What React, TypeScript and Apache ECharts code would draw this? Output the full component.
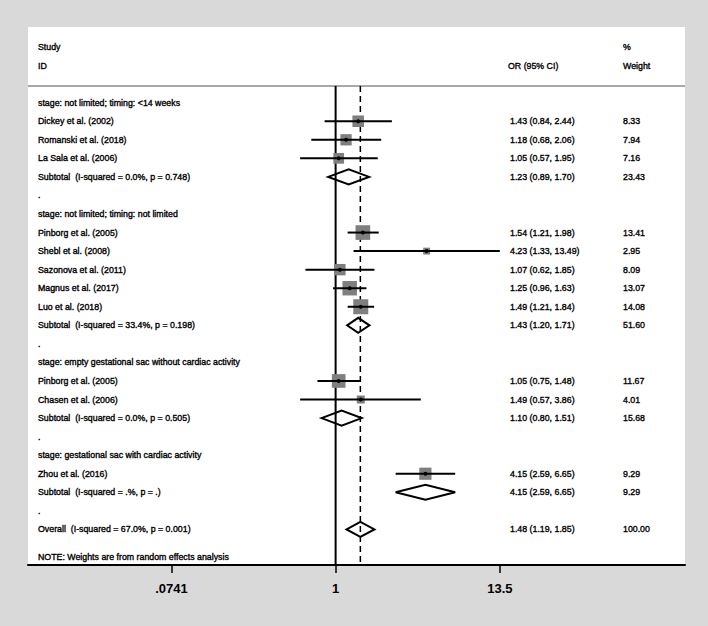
import React, { useEffect, useRef } from "react";
import * as echarts from "echarts";

// ---------- data ----------
const rowLabels = [
  "stage: not limited; timing: <14 weeks",
  "Dickey et al. (2002)",
  "Romanski et al. (2018)",
  "La Sala et al. (2006)",
  "Subtotal  (I-squared = 0.0%, p = 0.748)",
  ".",
  "stage: not limited; timing: not limited",
  "Pinborg et al. (2005)",
  "Shebl et al. (2008)",
  "Sazonova et al. (2011)",
  "Magnus et al. (2017)",
  "Luo et al. (2018)",
  "Subtotal  (I-squared = 33.4%, p = 0.198)",
  ".",
  "stage: empty gestational sac without cardiac activity",
  "Pinborg et al. (2005)",
  "Chasen et al. (2006)",
  "Subtotal  (I-squared = 0.0%, p = 0.505)",
  ".",
  "stage: gestational sac with cardiac activity",
  "Zhou et al. (2016)",
  "Subtotal  (I-squared = .%, p = .)",
  ".",
  "Overall  (I-squared = 67.0%, p = 0.001)",
];

const studyRows = [1, 2, 3, 7, 8, 9, 10, 11, 15, 16, 20];
const studyOR = [1.43, 1.18, 1.05, 1.54, 4.23, 1.07, 1.25, 1.49, 1.05, 1.49, 4.15];
const studyLo = [0.84, 0.68, 0.57, 1.21, 1.33, 0.62, 0.96, 1.21, 0.75, 0.57, 2.59];
const studyHi = [2.44, 2.06, 1.95, 1.98, 13.49, 1.85, 1.63, 1.84, 1.48, 3.86, 6.65];
const studyWeight = [8.33, 7.94, 7.16, 13.41, 2.95, 8.09, 13.07, 14.08, 11.67, 4.01, 9.29];

const pooledRows = [4, 12, 17, 21, 23];
const pooledOR = [1.23, 1.43, 1.1, 4.15, 1.48];
const pooledLo = [0.89, 1.2, 0.8, 2.59, 1.19];
const pooledHi = [1.7, 1.71, 1.51, 6.65, 1.85];
const pooledWeight = [23.43, 51.6, 15.68, 9.29, 100.0];

const tickValues = [0.0741, 1, 13.5];
const tickLabels = [".0741", "1", "13.5"];

const headerLeft = ["Study", "ID"];
const headerOR = "OR (95% CI)";
const headerWeight = ["%", "Weight"];
const noteText = "NOTE: Weights are from random effects analysis";

// ---------- layout ----------
const X_MIN = -4.875; // ln(OR) at left edge of plot region
const X_MAX = 5.537; // ln(OR) at right edge
const Y_MIN = -4.08;
const Y_MAX = 24.92;
const SEP_ROW = -0.9;
const NOTE_ROW = 24.47;
const HEADER_ROWS = [-3, -2];
const COL_LABEL = 10;
const COL_OR = 482;
const COL_W = 595;
const FONT = "'Liberation Sans', Arial, Helvetica, sans-serif";
const FS = 8.8;

const fmt = (v: number) => v.toFixed(2);

function txt(text: string, x: number, y: number) {
  return {
    type: "text",
    style: {
      text,
      x,
      y,
      fill: "#000",
      stroke: "#000",
      lineWidth: 0.35,
      fontSize: FS,
      fontFamily: FONT,
      align: "left",
      verticalAlign: "middle",
    },
  };
}

export default function App() {
  const ref = useRef<HTMLDivElement>(null);

  useEffect(() => {
    if (!ref.current) return;
    const chart = echarts.init(ref.current, undefined, { renderer: "svg" });
    const overallOR = pooledOR[pooledOR.length - 1];

    const option: any = {
      animation: false,
      backgroundColor: "#d9d9d9",
      grid: {
        left: 28,
        top: 27,
        width: 657,
        height: 538,
        show: true,
        backgroundColor: "#ffffff",
        borderWidth: 0,
      },
      xAxis: {
        type: "value",
        min: X_MIN,
        max: X_MAX,
        splitLine: { show: false },
        axisLine: { show: true, onZero: false, lineStyle: { color: "#000", width: 2 } },
        axisTick: {
          show: true,
          customValues: tickValues.map((v) => Math.log(v)),
          length: 8,
          lineStyle: { color: "#000", width: 1.5 },
        },
        axisLabel: {
          show: true,
          customValues: tickValues.map((v) => Math.log(v)),
          margin: 17,
          color: "#000",
          fontSize: 13,
          fontWeight: "bold",
          fontFamily: FONT,
          formatter: (val: number) => {
            const i = tickValues.findIndex((t) => Math.abs(Math.log(t) - val) < 1e-6);
            return i >= 0 ? tickLabels[i] : "";
          },
        },
      },
      yAxis: {
        type: "value",
        inverse: true,
        min: Y_MIN,
        max: Y_MAX,
        show: false,
        splitLine: { show: false },
      },
      series: [
        // reference lines & separator
        {
          type: "custom",
          clip: false,
          silent: true,
          data: [[0, 0]],
          renderItem: (_p: any, api: any) => {
            const top = api.coord([0, SEP_ROW])[1];
            const bottom = api.coord([0, Y_MAX])[1];
            const x1 = api.coord([0, 0])[0];
            const x2 = api.coord([Math.log(overallOR), 0])[0];
            const l = api.coord([X_MIN, SEP_ROW]);
            const r = api.coord([X_MAX, SEP_ROW]);
            return {
              type: "group",
              children: [
                {
                  type: "line",
                  shape: { x1: l[0], y1: l[1], x2: r[0], y2: r[1] },
                  style: { stroke: "#8c8c8c", lineWidth: 1.3 },
                },
                {
                  type: "line",
                  shape: { x1, y1: top, x2: x1, y2: bottom },
                  style: { stroke: "#000", lineWidth: 2 },
                },
                {
                  type: "line",
                  shape: { x1: x2, y1: top, x2, y2: bottom },
                  style: { stroke: "#000", lineWidth: 1.5, lineDash: [6, 4] },
                },
              ],
            };
          },
        },
        // header + note text
        {
          type: "custom",
          clip: false,
          silent: true,
          data: [[0, 0]],
          renderItem: (_p: any, api: any) => {
            const x0 = api.coord([X_MIN, 0])[0];
            const children: any[] = [];
            headerLeft.forEach((t, k) => {
              children.push(txt(t, x0 + COL_LABEL, api.coord([0, HEADER_ROWS[k]])[1]));
            });
            children.push(txt(headerOR, x0 + COL_OR - 2, api.coord([0, HEADER_ROWS[1]])[1]));
            headerWeight.forEach((t, k) => {
              children.push(txt(t, x0 + COL_W, api.coord([0, HEADER_ROWS[k]])[1]));
            });
            children.push(txt(noteText, x0 + COL_LABEL, api.coord([0, NOTE_ROW])[1]));
            return { type: "group", children };
          },
        },
        // row labels
        {
          type: "custom",
          clip: false,
          silent: true,
          data: rowLabels.map((_, i) => [0, i]),
          renderItem: (p: any, api: any) => {
            const i = p.dataIndex;
            const x0 = api.coord([X_MIN, i])[0];
            const y = api.coord([0, i])[1];
            return txt(rowLabels[i], x0 + COL_LABEL, y);
          },
        },
        // studies
        {
          type: "custom",
          clip: false,
          silent: true,
          data: studyRows.map((r, k) => [Math.log(studyOR[k]), r]),
          renderItem: (p: any, api: any) => {
            const k = p.dataIndex;
            const row = studyRows[k];
            const c = api.coord([Math.log(studyOR[k]), row]);
            const lo = api.coord([Math.log(studyLo[k]), row]);
            const hi = api.coord([Math.log(studyHi[k]), row]);
            const x0 = api.coord([X_MIN, row])[0];
            const s = 4.0 * Math.sqrt(studyWeight[k]);
            return {
              type: "group",
              children: [
                {
                  type: "rect",
                  shape: { x: c[0] - s / 2, y: c[1] - s / 2, width: s, height: s },
                  style: { fill: "#7f7f7f" },
                },
                {
                  type: "line",
                  shape: { x1: lo[0], y1: c[1], x2: hi[0], y2: c[1] },
                  style: { stroke: "#000", lineWidth: 2 },
                },
                {
                  type: "circle",
                  shape: { cx: c[0], cy: c[1], r: 2 },
                  style: { fill: "#000" },
                },
                txt(
                  `${fmt(studyOR[k])} (${fmt(studyLo[k])}, ${fmt(studyHi[k])})`,
                  x0 + COL_OR,
                  c[1]
                ),
                txt(fmt(studyWeight[k]), x0 + COL_W, c[1]),
              ],
            };
          },
        },
        // pooled diamonds
        {
          type: "custom",
          clip: false,
          silent: true,
          data: pooledRows.map((r, k) => [Math.log(pooledOR[k]), r]),
          renderItem: (p: any, api: any) => {
            const k = p.dataIndex;
            const row = pooledRows[k];
            const c = api.coord([Math.log(pooledOR[k]), row]);
            const lo = api.coord([Math.log(pooledLo[k]), row]);
            const hi = api.coord([Math.log(pooledHi[k]), row]);
            const x0 = api.coord([X_MIN, row])[0];
            const h = 7.5;
            return {
              type: "group",
              children: [
                {
                  type: "polygon",
                  shape: {
                    points: [
                      [lo[0], c[1]],
                      [c[0], c[1] - h],
                      [hi[0], c[1]],
                      [c[0], c[1] + h],
                    ],
                  },
                  style: { fill: "none", stroke: "#000", lineWidth: 2 },
                },
                txt(
                  `${fmt(pooledOR[k])} (${fmt(pooledLo[k])}, ${fmt(pooledHi[k])})`,
                  x0 + COL_OR,
                  c[1]
                ),
                txt(fmt(pooledWeight[k]), x0 + COL_W, c[1]),
              ],
            };
          },
        },
      ],
    };

    chart.setOption(option);
    return () => chart.dispose();
  }, []);

  return (
    <div
      ref={ref}
      style={{ position: "absolute", left: 0, top: 0, width: 708, height: 626 }}
    />
  );
}
